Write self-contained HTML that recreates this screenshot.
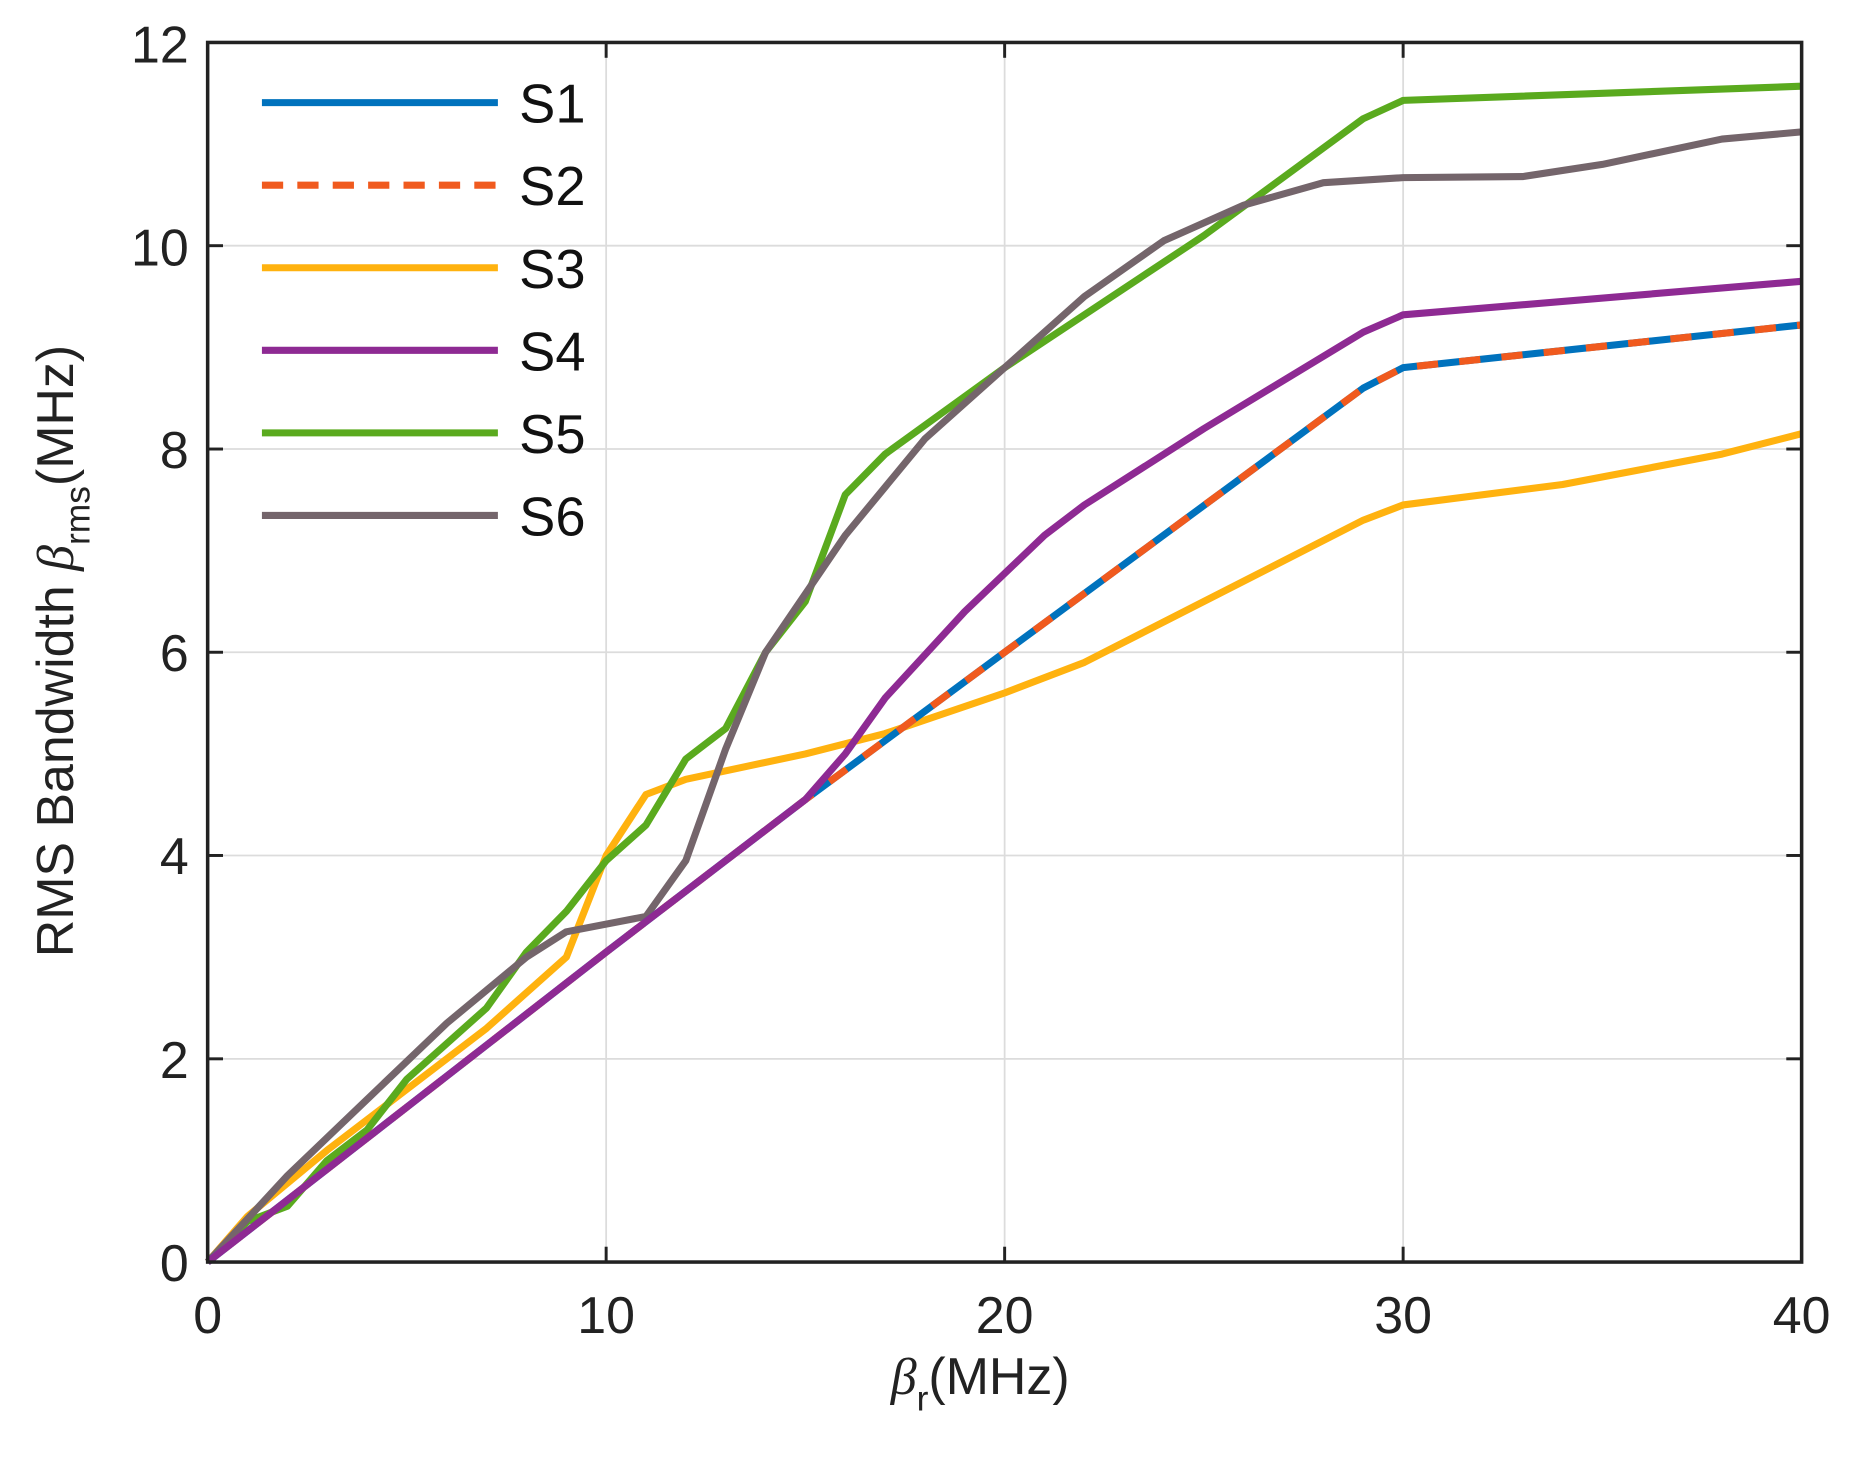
<!DOCTYPE html>
<html><head><meta charset="utf-8"><style>html,body{margin:0;padding:0;background:#fff}svg{display:block}</style></head>
<body>
<svg width="1850" height="1472" viewBox="0 0 1568 1248" preserveAspectRatio="none" xmlns="http://www.w3.org/2000/svg" font-family="Liberation Sans, sans-serif">
<rect width="1568" height="1248" fill="#fff"/>
<g stroke="#dcdcdc" stroke-width="1.5">
<line x1="513.75" y1="36" x2="513.75" y2="1070"/><line x1="851.5" y1="36" x2="851.5" y2="1070"/><line x1="1189.25" y1="36" x2="1189.25" y2="1070"/>
<line x1="176" y1="897.7" x2="1527" y2="897.7"/><line x1="176" y1="725.3" x2="1527" y2="725.3"/><line x1="176" y1="553" x2="1527" y2="553"/><line x1="176" y1="380.7" x2="1527" y2="380.7"/><line x1="176" y1="208.3" x2="1527" y2="208.3"/>
</g>
<g stroke="#222" stroke-width="2.5">
<line x1="513.75" y1="1070" x2="513.75" y2="1057"/><line x1="851.5" y1="1070" x2="851.5" y2="1057"/><line x1="1189.25" y1="1070" x2="1189.25" y2="1057"/>
<line x1="513.75" y1="36" x2="513.75" y2="49"/><line x1="851.5" y1="36" x2="851.5" y2="49"/><line x1="1189.25" y1="36" x2="1189.25" y2="49"/>
<line x1="176" y1="897.7" x2="189" y2="897.7"/><line x1="176" y1="725.3" x2="189" y2="725.3"/><line x1="176" y1="553" x2="189" y2="553"/><line x1="176" y1="380.7" x2="189" y2="380.7"/><line x1="176" y1="208.3" x2="189" y2="208.3"/>
<line x1="1527" y1="897.7" x2="1514" y2="897.7"/><line x1="1527" y1="725.3" x2="1514" y2="725.3"/><line x1="1527" y1="553" x2="1514" y2="553"/><line x1="1527" y1="380.7" x2="1514" y2="380.7"/><line x1="1527" y1="208.3" x2="1514" y2="208.3"/>
</g>
<g fill="none" stroke-width="6" stroke-linejoin="round">
<polyline stroke="#FFB20F" points="176,1070 209.8,1031.2 277.3,975.2 412.4,871.8 480,811.5 513.8,725.3 547.5,673.6 581.3,660.7 682.6,639.2 750.2,621.9 851.5,587.5 919.1,561.6 1020.4,509.9 1155.5,441 1189.3,428.1 1324.4,410.8 1459.5,385 1527,367.7"/>
<polyline stroke="#5AAA1E" points="176,1070 209.8,1035.5 243.6,1022.6 277.3,983.8 311.1,958 344.9,914.9 412.4,854.6 446.2,807.2 480,772.7 513.8,729.6 547.5,699.5 581.3,643.5 615.1,617.6 648.9,553 682.6,509.9 716.4,419.4 750.2,385 851.5,311.7 1020.4,199.7 1155.5,100.6 1189.3,85.1 1527,73.1"/>
<polyline stroke="#74656B" points="176,1070 243.6,996.8 311.1,932.1 378.7,867.5 446.2,811.5 480,790 547.5,777 581.3,729.6 615.1,634.9 648.9,553 716.4,453.9 784,372 851.5,311.7 919.1,251.4 986.6,204 1054.2,173.9 1121.7,154.9 1189.3,150.6 1290.6,149.7 1358.1,139.4 1459.5,117.9 1527,111.8"/>
<polyline stroke="#0072BD" points="176,1070 513.8,807.2 682.6,677.9 851.5,553 1155.5,329 1189.3,311.7 1527,275.5"/>
<polyline stroke="#F05A1E" stroke-dasharray="18,18" stroke-dashoffset="18" points="176,1070 513.8,807.2 682.6,677.9 851.5,553 1155.5,329 1189.3,311.7 1527,275.5"/>
<polyline stroke="#8E2A93" points="176,1070 513.8,807.2 682.6,677.9 716.4,639.2 750.2,591.8 817.7,518.5 885.3,453.9 919.1,428.1 1020.4,363.4 1155.5,281.6 1189.3,266.9 1527,238.5"/>
</g>
<rect x="176" y="36" width="1351" height="1034" fill="none" stroke="#222" stroke-width="3"/>
<g font-size="44" fill="#222" text-anchor="end">
<text x="160" y="1086">0</text><text x="160" y="914">2</text><text x="160" y="741">4</text><text x="160" y="569">6</text><text x="160" y="397">8</text><text x="160" y="225">10</text><text x="160" y="53">12</text>
</g>
<g font-size="44" fill="#222" text-anchor="middle">
<text x="176" y="1130">0</text><text x="513.75" y="1130">10</text><text x="851.5" y="1130">20</text><text x="1189.25" y="1130">30</text><text x="1527" y="1130">40</text>
</g>
<text x="755" y="1182" font-size="44" fill="#222"><tspan font-style="italic" font-family="Liberation Serif, serif">β</tspan><tspan font-size="30" dy="14">r</tspan><tspan dy="-14">(MHz)</tspan></text>
<text transform="translate(62,552) rotate(-90)" text-anchor="middle" font-size="44" fill="#222">RMS Bandwidth <tspan font-style="italic" font-family="Liberation Serif, serif">β</tspan><tspan font-size="30" dy="14">rms</tspan><tspan dy="-14">(MHz)</tspan></text>
<g font-size="46" fill="#111">
<text x="440" y="104">S1</text><text x="440" y="174">S2</text><text x="440" y="244">S3</text><text x="440" y="314">S4</text><text x="440" y="384">S5</text><text x="440" y="454">S6</text>
</g>
<g stroke-width="6">
<line x1="222" y1="87" x2="422" y2="87" stroke="#0072BD"/>
<line x1="222" y1="157" x2="422" y2="157" stroke="#F05A1E" stroke-dasharray="18,12"/>
<line x1="222" y1="227" x2="422" y2="227" stroke="#FFB20F"/>
<line x1="222" y1="297" x2="422" y2="297" stroke="#8E2A93"/>
<line x1="222" y1="367" x2="422" y2="367" stroke="#5AAA1E"/>
<line x1="222" y1="437" x2="422" y2="437" stroke="#74656B"/>
</g>
</svg>
</body></html>
